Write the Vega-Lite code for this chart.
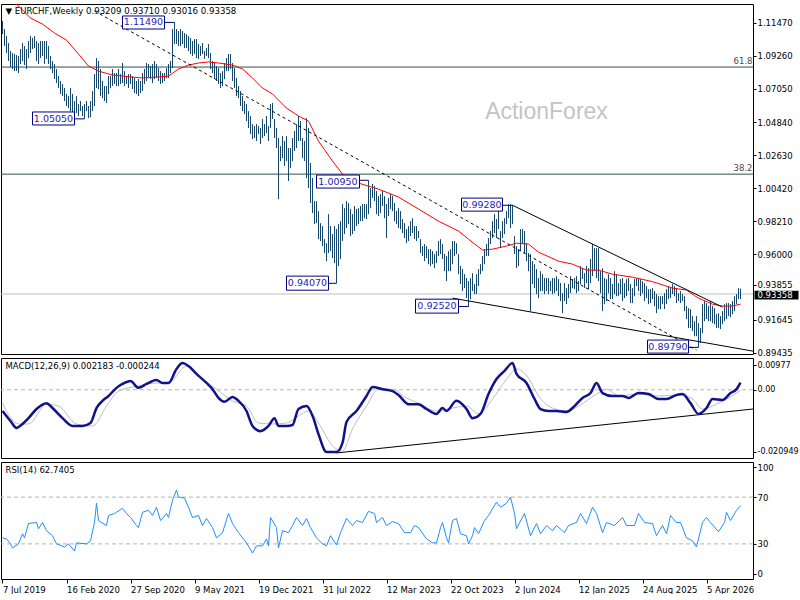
{
  "$schema": "https://vega.github.io/schema/vega-lite/v6.json",
  "padding": {"left": -3, "top": 3, "right": 0, "bottom": 0},
  "background": "white",
  "spacing": 4,
  "bounds": "flush",
  "config": {
    "view": {"stroke": "#000000", "strokeWidth": 1},
    "axis": {"labelFont": "DejaVu Sans", "labelFontSize": 8.5, "labelColor": "#000000", "tickColor": "#000000", "domain": false, "grid": false, "tickSize": 3, "labelPadding": 1},
    "text": {"font": "DejaVu Sans"}
  },
  "datasets": {
    "bars": [
      {"i":0,"h":1.1158,"l":1.1071},{"i":1,"h":1.1105,"l":1.0991},{"i":2,"h":1.1058,"l":1.0945},{"i":3,"h":1.1011,"l":1.0891},{"i":4,"h":1.0958,"l":1.0851},
      {"i":5,"h":1.0945,"l":1.0838},{"i":6,"h":1.0938,"l":1.0824},{"i":7,"h":1.0931,"l":1.0824},{"i":8,"h":1.0925,"l":1.0811},{"i":9,"h":1.0971,"l":1.0871},
      {"i":10,"h":1.1011,"l":1.0891},{"i":11,"h":1.0991,"l":1.0864},{"i":12,"h":1.0971,"l":1.0838},{"i":13,"h":1.1025,"l":1.0911},{"i":14,"h":1.1058,"l":1.0945},
      {"i":15,"h":1.1045,"l":1.0971},{"i":16,"h":1.1058,"l":1.0978},{"i":17,"h":1.1025,"l":1.0891},{"i":18,"h":1.1011,"l":1.0871},{"i":19,"h":1.1025,"l":1.0911},
      {"i":20,"h":1.1025,"l":1.0925},{"i":21,"h":1.1025,"l":1.0871},{"i":22,"h":1.1025,"l":1.0905},{"i":23,"h":1.0991,"l":1.0871},{"i":24,"h":1.0925,"l":1.0838},
      {"i":25,"h":1.0891,"l":1.0811},{"i":26,"h":1.0871,"l":1.0771},{"i":27,"h":1.0838,"l":1.0744},{"i":28,"h":1.0791,"l":1.0711},{"i":29,"h":1.0758,"l":1.0671},
      {"i":30,"h":1.0738,"l":1.0657},{"i":31,"h":1.0711,"l":1.0624},{"i":32,"h":1.0671,"l":1.0591},{"i":33,"h":1.0657,"l":1.0577},{"i":34,"h":1.0711,"l":1.0557},
      {"i":35,"h":1.0671,"l":1.0537},{"i":36,"h":1.0624,"l":1.0510},{"i":37,"h":1.0657,"l":1.0544},{"i":38,"h":1.0604,"l":1.0524},{"i":39,"h":1.0624,"l":1.0557},
      {"i":40,"h":1.0591,"l":1.0524},{"i":41,"h":1.0604,"l":1.0505},{"i":42,"h":1.0624,"l":1.0557},{"i":43,"h":1.0591,"l":1.0510},{"i":44,"h":1.0624,"l":1.0515},
      {"i":45,"h":1.0691,"l":1.0557},{"i":46,"h":1.0804,"l":1.0591},{"i":47,"h":1.0911,"l":1.0711},{"i":48,"h":1.0891,"l":1.0704},{"i":49,"h":1.0838,"l":1.0657},
      {"i":50,"h":1.0758,"l":1.0644},{"i":51,"h":1.0724,"l":1.0624},{"i":52,"h":1.0724,"l":1.0611},{"i":53,"h":1.0791,"l":1.0671},{"i":54,"h":1.0791,"l":1.0711},
      {"i":55,"h":1.0838,"l":1.0724},{"i":56,"h":1.0811,"l":1.0738},{"i":57,"h":1.0811,"l":1.0724},{"i":58,"h":1.0838,"l":1.0724},{"i":59,"h":1.0804,"l":1.0738},
      {"i":60,"h":1.0878,"l":1.0744},{"i":61,"h":1.0824,"l":1.0724},{"i":62,"h":1.0791,"l":1.0738},{"i":63,"h":1.0804,"l":1.0711},{"i":64,"h":1.0804,"l":1.0738},
      {"i":65,"h":1.0791,"l":1.0704},{"i":66,"h":1.0778,"l":1.0677},{"i":67,"h":1.0758,"l":1.0671},{"i":68,"h":1.0771,"l":1.0657},{"i":69,"h":1.0758,"l":1.0677},
      {"i":70,"h":1.0811,"l":1.0691},{"i":71,"h":1.0838,"l":1.0738},{"i":72,"h":1.0878,"l":1.0758},{"i":73,"h":1.0871,"l":1.0778},{"i":74,"h":1.0858,"l":1.0771},
      {"i":75,"h":1.0871,"l":1.0744},{"i":76,"h":1.0891,"l":1.0771},{"i":77,"h":1.0871,"l":1.0778},{"i":78,"h":1.0844,"l":1.0758},{"i":79,"h":1.0824,"l":1.0738},
      {"i":80,"h":1.0811,"l":1.0744},{"i":81,"h":1.0811,"l":1.0758},{"i":82,"h":1.0844,"l":1.0778},{"i":83,"h":1.0871,"l":1.0778},{"i":84,"h":1.0891,"l":1.0811},
      {"i":85,"h":1.1105,"l":1.0844},{"i":86,"h":1.1149,"l":1.1005},{"i":87,"h":1.1105,"l":1.1005},{"i":88,"h":1.1092,"l":1.0991},{"i":89,"h":1.1105,"l":1.0991},
      {"i":90,"h":1.1092,"l":1.1005},{"i":91,"h":1.1078,"l":1.0978},{"i":92,"h":1.1071,"l":1.0978},{"i":93,"h":1.1058,"l":1.0958},{"i":94,"h":1.1045,"l":1.0938},
      {"i":95,"h":1.1025,"l":1.0925},{"i":96,"h":1.1038,"l":1.0938},{"i":97,"h":1.1038,"l":1.0911},{"i":98,"h":1.1005,"l":1.0905},{"i":99,"h":1.0991,"l":1.0925},
      {"i":100,"h":1.1011,"l":1.0938},{"i":101,"h":1.0958,"l":1.0905},{"i":102,"h":1.0978,"l":1.0925},{"i":103,"h":1.1005,"l":1.0911},{"i":104,"h":1.0945,"l":1.0838},
      {"i":105,"h":1.0891,"l":1.0811},{"i":106,"h":1.0878,"l":1.0771},{"i":107,"h":1.0858,"l":1.0758},{"i":108,"h":1.0844,"l":1.0738},{"i":109,"h":1.0811,"l":1.0711},
      {"i":110,"h":1.0824,"l":1.0724},{"i":111,"h":1.0878,"l":1.0771},{"i":112,"h":1.0911,"l":1.0824},{"i":113,"h":1.0938,"l":1.0824},{"i":114,"h":1.0938,"l":1.0838},
      {"i":115,"h":1.0878,"l":1.0758},{"i":116,"h":1.0844,"l":1.0711},{"i":117,"h":1.0778,"l":1.0657},{"i":118,"h":1.0724,"l":1.0644},{"i":119,"h":1.0691,"l":1.0591},
      {"i":120,"h":1.0657,"l":1.0557},{"i":121,"h":1.0624,"l":1.0537},{"i":122,"h":1.0604,"l":1.0490},{"i":123,"h":1.0557,"l":1.0444},{"i":124,"h":1.0524,"l":1.0404},
      {"i":125,"h":1.0470,"l":1.0370},{"i":126,"h":1.0457,"l":1.0377},{"i":127,"h":1.0470,"l":1.0357},{"i":128,"h":1.0457,"l":1.0404},{"i":129,"h":1.0444,"l":1.0337},
      {"i":130,"h":1.0504,"l":1.0377},{"i":131,"h":1.0470,"l":1.0390},{"i":132,"h":1.0524,"l":1.0410},{"i":133,"h":1.0457,"l":1.0357},{"i":134,"h":1.0604,"l":1.0444},
      {"i":135,"h":1.0611,"l":1.0504},{"i":136,"h":1.0504,"l":1.0377},{"i":137,"h":1.0444,"l":1.0310},{"i":138,"h":1.0377,"l":0.9969},{"i":139,"h":1.0323,"l":1.0223},
      {"i":140,"h":1.0390,"l":1.0243},{"i":141,"h":1.0357,"l":1.0190},{"i":142,"h":1.0390,"l":1.0223},{"i":143,"h":1.0310,"l":1.0090},{"i":144,"h":1.0310,"l":1.0176},
      {"i":145,"h":1.0377,"l":1.0223},{"i":146,"h":1.0424,"l":1.0290},{"i":147,"h":1.0470,"l":1.0310},{"i":148,"h":1.0524,"l":1.0357},{"i":149,"h":1.0490,"l":1.0357},
      {"i":150,"h":1.0377,"l":1.0243},{"i":151,"h":1.0357,"l":1.0223},{"i":152,"h":1.0510,"l":1.0110},{"i":153,"h":1.0444,"l":1.0043},{"i":154,"h":1.0210,"l":0.9943},
      {"i":155,"h":1.0110,"l":0.9876},{"i":156,"h":0.9956,"l":0.9802},{"i":157,"h":0.9956,"l":0.9809},{"i":158,"h":0.9889,"l":0.9702},{"i":159,"h":0.9809,"l":0.9689},
      {"i":160,"h":0.9789,"l":0.9655},{"i":161,"h":0.9702,"l":0.9609},{"i":162,"h":0.9675,"l":0.9555},{"i":163,"h":0.9869,"l":0.9609},{"i":164,"h":0.9789,"l":0.9622},
      {"i":165,"h":0.9736,"l":0.9575},{"i":166,"h":0.9789,"l":0.9542},{"i":167,"h":0.9769,"l":0.9407},{"i":168,"h":0.9802,"l":0.9522},{"i":169,"h":0.9822,"l":0.9569},
      {"i":170,"h":0.9936,"l":0.9689},{"i":171,"h":0.9909,"l":0.9736},{"i":172,"h":0.9956,"l":0.9776},{"i":173,"h":0.9943,"l":0.9802},{"i":174,"h":0.9903,"l":0.9722},
      {"i":175,"h":0.9869,"l":0.9736},{"i":176,"h":0.9923,"l":0.9756},{"i":177,"h":0.9903,"l":0.9789},{"i":178,"h":0.9909,"l":0.9802},{"i":179,"h":0.9923,"l":0.9822},
      {"i":180,"h":0.9936,"l":0.9822},{"i":181,"h":0.9936,"l":0.9842},{"i":182,"h":0.9936,"l":0.9836},{"i":183,"h":1.0095,"l":0.9869},{"i":184,"h":1.0043,"l":0.9909},
      {"i":185,"h":1.0070,"l":0.9976},{"i":186,"h":1.0056,"l":0.9956},{"i":187,"h":1.0023,"l":0.9869},{"i":188,"h":0.9989,"l":0.9856},{"i":189,"h":1.0003,"l":0.9876},
      {"i":190,"h":1.0023,"l":0.9923},{"i":191,"h":0.9989,"l":0.9842},{"i":192,"h":0.9936,"l":0.9709},{"i":193,"h":0.9976,"l":0.9856},{"i":194,"h":1.0003,"l":0.9903},
      {"i":195,"h":0.9989,"l":0.9889},{"i":196,"h":0.9943,"l":0.9822},{"i":197,"h":0.9889,"l":0.9802},{"i":198,"h":0.9909,"l":0.9776},{"i":199,"h":0.9889,"l":0.9769},
      {"i":200,"h":0.9836,"l":0.9742},{"i":201,"h":0.9809,"l":0.9709},{"i":202,"h":0.9769,"l":0.9675},{"i":203,"h":0.9789,"l":0.9689},{"i":204,"h":0.9822,"l":0.9722},
      {"i":205,"h":0.9842,"l":0.9742},{"i":206,"h":0.9789,"l":0.9702},{"i":207,"h":0.9789,"l":0.9689},{"i":208,"h":0.9756,"l":0.9709},{"i":209,"h":0.9702,"l":0.9609},
      {"i":210,"h":0.9655,"l":0.9589},{"i":211,"h":0.9669,"l":0.9555},{"i":212,"h":0.9655,"l":0.9575},{"i":213,"h":0.9635,"l":0.9535},{"i":214,"h":0.9635,"l":0.9522},
      {"i":215,"h":0.9622,"l":0.9535},{"i":216,"h":0.9602,"l":0.9508},{"i":217,"h":0.9622,"l":0.9542},{"i":218,"h":0.9689,"l":0.9589},{"i":219,"h":0.9702,"l":0.9602},
      {"i":220,"h":0.9669,"l":0.9569},{"i":221,"h":0.9602,"l":0.9488},{"i":222,"h":0.9589,"l":0.9422},{"i":223,"h":0.9622,"l":0.9488},{"i":224,"h":0.9635,"l":0.9488},
      {"i":225,"h":0.9689,"l":0.9535},{"i":226,"h":0.9689,"l":0.9589},{"i":227,"h":0.9675,"l":0.9602},{"i":228,"h":0.9602,"l":0.9468},{"i":229,"h":0.9522,"l":0.9402},
      {"i":230,"h":0.9502,"l":0.9355},{"i":231,"h":0.9468,"l":0.9375},{"i":232,"h":0.9442,"l":0.9308},{"i":233,"h":0.9422,"l":0.9252},{"i":234,"h":0.9442,"l":0.9301},
      {"i":235,"h":0.9475,"l":0.9355},{"i":236,"h":0.9402,"l":0.9335},{"i":237,"h":0.9468,"l":0.9335},{"i":238,"h":0.9502,"l":0.9388},{"i":239,"h":0.9535,"l":0.9468},
      {"i":240,"h":0.9589,"l":0.9488},{"i":241,"h":0.9635,"l":0.9535},{"i":242,"h":0.9669,"l":0.9589},{"i":243,"h":0.9709,"l":0.9589},{"i":244,"h":0.9756,"l":0.9669},
      {"i":245,"h":0.9822,"l":0.9709},{"i":246,"h":0.9869,"l":0.9742},{"i":247,"h":0.9836,"l":0.9709},{"i":248,"h":0.9909,"l":0.9769},{"i":249,"h":0.9756,"l":0.9642},
      {"i":250,"h":0.9822,"l":0.9709},{"i":251,"h":0.9842,"l":0.9736},{"i":252,"h":0.9889,"l":0.9802},{"i":253,"h":0.9936,"l":0.9842},{"i":254,"h":0.9936,"l":0.9776},
      {"i":255,"h":0.9928,"l":0.9802},{"i":256,"h":0.9722,"l":0.9602},{"i":257,"h":0.9655,"l":0.9509},{"i":258,"h":0.9635,"l":0.9522},{"i":259,"h":0.9769,"l":0.9622},
      {"i":260,"h":0.9769,"l":0.9669},{"i":261,"h":0.9756,"l":0.9609},{"i":262,"h":0.9675,"l":0.9555},{"i":263,"h":0.9609,"l":0.9488},{"i":264,"h":0.9602,"l":0.9221},
      {"i":265,"h":0.9555,"l":0.9402},{"i":266,"h":0.9535,"l":0.9375},{"i":267,"h":0.9502,"l":0.9335},{"i":268,"h":0.9442,"l":0.9308},{"i":269,"h":0.9488,"l":0.9355},
      {"i":270,"h":0.9468,"l":0.9355},{"i":271,"h":0.9442,"l":0.9335},{"i":272,"h":0.9442,"l":0.9355},{"i":273,"h":0.9442,"l":0.9335},{"i":274,"h":0.9422,"l":0.9355},
      {"i":275,"h":0.9442,"l":0.9335},{"i":276,"h":0.9442,"l":0.9341},{"i":277,"h":0.9455,"l":0.9355},{"i":278,"h":0.9435,"l":0.9321},{"i":279,"h":0.9408,"l":0.9288},
      {"i":280,"h":0.9341,"l":0.9208},{"i":281,"h":0.9408,"l":0.9288},{"i":282,"h":0.9375,"l":0.9268},{"i":283,"h":0.9402,"l":0.9308},{"i":284,"h":0.9455,"l":0.9341},
      {"i":285,"h":0.9435,"l":0.9375},{"i":286,"h":0.9442,"l":0.9368},{"i":287,"h":0.9455,"l":0.9341},{"i":288,"h":0.9422,"l":0.9355},{"i":289,"h":0.9522,"l":0.9402},
      {"i":290,"h":0.9508,"l":0.9435},{"i":291,"h":0.9475,"l":0.9375},{"i":292,"h":0.9522,"l":0.9408},{"i":293,"h":0.9508,"l":0.9368},{"i":294,"h":0.9569,"l":0.9408},
      {"i":295,"h":0.9669,"l":0.9455},{"i":296,"h":0.9642,"l":0.9488},{"i":297,"h":0.9642,"l":0.9442},{"i":298,"h":0.9642,"l":0.9422},{"i":299,"h":0.9488,"l":0.9341},
      {"i":300,"h":0.9508,"l":0.9221},{"i":301,"h":0.9442,"l":0.9268},{"i":302,"h":0.9435,"l":0.9288},{"i":303,"h":0.9468,"l":0.9341},{"i":304,"h":0.9442,"l":0.9301},
      {"i":305,"h":0.9402,"l":0.9301},{"i":306,"h":0.9488,"l":0.9335},{"i":307,"h":0.9468,"l":0.9321},{"i":308,"h":0.9408,"l":0.9321},{"i":309,"h":0.9435,"l":0.9335},
      {"i":310,"h":0.9442,"l":0.9288},{"i":311,"h":0.9408,"l":0.9308},{"i":312,"h":0.9435,"l":0.9321},{"i":313,"h":0.9442,"l":0.9355},{"i":314,"h":0.9402,"l":0.9275},
      {"i":315,"h":0.9375,"l":0.9275},{"i":316,"h":0.9435,"l":0.9321},{"i":317,"h":0.9442,"l":0.9388},{"i":318,"h":0.9435,"l":0.9355},{"i":319,"h":0.9435,"l":0.9321},
      {"i":320,"h":0.9422,"l":0.9341},{"i":321,"h":0.9408,"l":0.9288},{"i":322,"h":0.9388,"l":0.9308},{"i":323,"h":0.9368,"l":0.9268},{"i":324,"h":0.9368,"l":0.9275},
      {"i":325,"h":0.9375,"l":0.9301},{"i":326,"h":0.9355,"l":0.9255},{"i":327,"h":0.9335,"l":0.9208},{"i":328,"h":0.9321,"l":0.9235},{"i":329,"h":0.9321,"l":0.9235},
      {"i":330,"h":0.9321,"l":0.9268},{"i":331,"h":0.9341,"l":0.9235},{"i":332,"h":0.9368,"l":0.9268},{"i":333,"h":0.9388,"l":0.9301},{"i":334,"h":0.9375,"l":0.9308},
      {"i":335,"h":0.9402,"l":0.9335},{"i":336,"h":0.9388,"l":0.9321},{"i":337,"h":0.9375,"l":0.9275},{"i":338,"h":0.9341,"l":0.9288},{"i":339,"h":0.9355,"l":0.9275},
      {"i":340,"h":0.9335,"l":0.9288},{"i":341,"h":0.9321,"l":0.9221},{"i":342,"h":0.9255,"l":0.9168},{"i":343,"h":0.9241,"l":0.9108},{"i":344,"h":0.9235,"l":0.9108},
      {"i":345,"h":0.9188,"l":0.9088},{"i":346,"h":0.9154,"l":0.9054},{"i":347,"h":0.9188,"l":0.9054},{"i":348,"h":0.9141,"l":0.8979},{"i":349,"h":0.9108,"l":0.9008},
      {"i":350,"h":0.9268,"l":0.9074},{"i":351,"h":0.9288,"l":0.9154},{"i":352,"h":0.9275,"l":0.9168},{"i":353,"h":0.9255,"l":0.9154},{"i":354,"h":0.9288,"l":0.9154},
      {"i":355,"h":0.9255,"l":0.9141},{"i":356,"h":0.9241,"l":0.9134},{"i":357,"h":0.9201,"l":0.9108},{"i":358,"h":0.9208,"l":0.9108},{"i":359,"h":0.9188,"l":0.9101},
      {"i":360,"h":0.9221,"l":0.9134},{"i":361,"h":0.9268,"l":0.9154},{"i":362,"h":0.9275,"l":0.9168},{"i":363,"h":0.9275,"l":0.9188},{"i":364,"h":0.9268,"l":0.9181},
      {"i":365,"h":0.9288,"l":0.9201},{"i":366,"h":0.9321,"l":0.9221},{"i":367,"h":0.9335,"l":0.9268},{"i":368,"h":0.9375,"l":0.9301},{"i":369,"h":0.9371,"l":0.9302}
    ],
    "ma": [
      {"i":0,"ma":1.1345},{"i":4,"ma":1.1299},{"i":8,"ma":1.1259},{"i":14,"ma":1.1178},{"i":20,"ma":1.1138},{"i":26,"ma":1.1078},{"i":32,"ma":1.1031},
      {"i":38,"ma":1.0938},{"i":43,"ma":1.0858},{"i":48,"ma":1.0824},{"i":55,"ma":1.0798},{"i":65,"ma":1.0784},{"i":70,"ma":1.0778},{"i":77,"ma":1.0784},
      {"i":83,"ma":1.0791},{"i":88,"ma":1.0838},{"i":93,"ma":1.0864},{"i":98,"ma":1.0878},{"i":103,"ma":1.0885},{"i":108,"ma":1.0878},{"i":115,"ma":1.0864},
      {"i":120,"ma":1.0838},{"i":125,"ma":1.0778},{"i":130,"ma":1.0711},{"i":135,"ma":1.0671},{"i":142,"ma":1.0577},{"i":148,"ma":1.0524},{"i":153,"ma":1.0490},
      {"i":158,"ma":1.0357},{"i":165,"ma":1.0223},{"i":170,"ma":1.0136},{"i":178,"ma":1.0076},{"i":188,"ma":1.0036},{"i":198,"ma":0.9983},{"i":208,"ma":0.9903},
      {"i":218,"ma":0.9822},{"i":228,"ma":0.9756},{"i":233,"ma":0.9702},{"i":240,"ma":0.9629},{"i":245,"ma":0.9635},{"i":252,"ma":0.9656},{"i":257,"ma":0.9675},
      {"i":263,"ma":0.9669},{"i":268,"ma":0.9615},{"i":278,"ma":0.9555},{"i":285,"ma":0.9535},{"i":292,"ma":0.9495},{"i":298,"ma":0.9495},{"i":305,"ma":0.9468},
      {"i":315,"ma":0.9448},{"i":325,"ma":0.9418},{"i":335,"ma":0.9375},{"i":342,"ma":0.9362},{"i":346,"ma":0.9325},{"i":348,"ma":0.9308},{"i":355,"ma":0.9268},
      {"i":360,"ma":0.9255},{"i":365,"ma":0.9255},{"i":369,"ma":0.9268}
    ],
    "levels": [{"p":1.0851},{"p":1.0136}],
    "fibtext": [{"i":375,"p":1.0851,"label":"61.8"},{"i":375,"p":1.0136,"label":"38.2"}],
    "last": [{"p":0.93358,"i":376,"i2":398,"top":0.9357,"bot":0.9299,"t":0.9328,"label":"0.93358"}],
    "dashed": [{"i":46,"p":1.1225,"i2":347,"p2":0.8961}],
    "solid": [{"i":255,"p":0.9928,"i2":360,"p2":0.9248},{"i":225,"p":0.9308,"i2":375.25,"p2":0.8954}],
    "boxes": [
      {"label":"1.11490","i":60,"i2":81,"top":1.1192,"bot":1.1105,"mid":70.5,"t":1.1149,"c1":81,"c2":86,"p":1.1149},
      {"label":"1.05050","i":15,"i2":36,"top":1.0551,"bot":1.0464,"mid":25.5,"t":1.0507,"c1":36,"c2":41,"p":1.0505},
      {"label":"1.00950","i":157,"i2":178.5,"top":1.0130,"bot":1.0043,"mid":167.75,"t":1.0086,"c1":178.5,"c2":183,"p":1.0095},
      {"label":"0.94070","i":142,"i2":163,"top":0.9455,"bot":0.9361,"mid":152.5,"t":0.9408,"c1":163,"c2":167,"p":0.9407},
      {"label":"0.99280","i":229.5,"i2":250,"top":0.9976,"bot":0.9889,"mid":239.75,"t":0.9932,"c1":250,"c2":255,"p":0.9928},
      {"label":"0.92520","i":206.5,"i2":228,"top":0.9301,"bot":0.9208,"mid":217.25,"t":0.9255,"c1":228,"c2":233,"p":0.9252},
      {"label":"0.89790","i":322.5,"i2":343,"top":0.9028,"bot":0.8941,"mid":332.75,"t":0.8985,"c1":343,"c2":348,"p":0.8979}
    ],
    "mark": [{"i":272,"p":1.0551,"label":"ActionForex"}],
    "head": [{"i":1.5,"p":1.1225,"label":"▼ EURCHF,Weekly  0.93209 0.93710 0.93016 0.93358"}],
    "macd": [
      {"i":0,"m":-0.0065},{"i":4,"m":-0.0096},{"i":7,"m":-0.0117},{"i":10,"m":-0.0105},{"i":13,"m":-0.0087},{"i":17,"m":-0.0059},{"i":22,"m":-0.0041},
      {"i":25,"m":-0.0056},{"i":30,"m":-0.0087},{"i":35,"m":-0.0111},{"i":40,"m":-0.0111},{"i":44,"m":-0.0102},{"i":47,"m":-0.0056},{"i":50,"m":-0.0034},
      {"i":53,"m":-0.0019},{"i":57,"m":0.0006},{"i":60,"m":0.0018},{"i":64,"m":0.0027},{"i":68,"m":0.0006},{"i":72,"m":0.0018},{"i":77,"m":0.0030},
      {"i":80,"m":0.0021},{"i":83,"m":0.0021},{"i":87,"m":0.0064},{"i":90,"m":0.0082},{"i":93,"m":0.0073},{"i":97,"m":0.0049},{"i":102,"m":0.0021},
      {"i":105,"m":0.0002},{"i":108,"m":-0.0025},{"i":111,"m":-0.0037},{"i":115,"m":-0.0022},{"i":118,"m":-0.0034},{"i":122,"m":-0.0065},{"i":125,"m":-0.0111},
      {"i":129,"m":-0.0127},{"i":133,"m":-0.0111},{"i":136,"m":-0.0087},{"i":138,"m":-0.0111},{"i":142,"m":-0.0111},{"i":145,"m":-0.0108},{"i":148,"m":-0.0059},
      {"i":152,"m":-0.0050},{"i":155,"m":-0.0080},{"i":158,"m":-0.0136},{"i":162,"m":-0.0191},{"i":167,"m":-0.0191},{"i":170,"m":-0.0163},{"i":172,"m":-0.0099},
      {"i":177,"m":-0.0065},{"i":182,"m":-0.0019},{"i":185,"m":0.0009},{"i":190,"m":0.0002},{"i":195,"m":-0.0004},{"i":198,"m":-0.0016},{"i":203,"m":-0.0044},
      {"i":208,"m":-0.0044},{"i":212,"m":-0.0059},{"i":217,"m":-0.0074},{"i":220,"m":-0.0056},{"i":222,"m":-0.0065},{"i":227,"m":-0.0034},{"i":232,"m":-0.0059},
      {"i":235,"m":-0.0087},{"i":239,"m":-0.0074},{"i":243,"m":-0.0013},{"i":247,"m":0.0033},{"i":251,"m":0.0058},{"i":255,"m":0.0082},{"i":257,"m":0.0049},
      {"i":262,"m":0.0021},{"i":266,"m":-0.0028},{"i":269,"m":-0.0059},{"i":273,"m":-0.0065},{"i":277,"m":-0.0065},{"i":282,"m":-0.0068},{"i":286,"m":-0.0050},
      {"i":290,"m":-0.0025},{"i":294,"m":-0.0010},{"i":297,"m":0.0021},{"i":300,"m":-0.0010},{"i":305,"m":-0.0019},{"i":310,"m":-0.0019},{"i":313,"m":-0.0025},
      {"i":318,"m":-0.0010},{"i":323,"m":-0.0013},{"i":328,"m":-0.0028},{"i":332,"m":-0.0028},{"i":337,"m":-0.0016},{"i":340,"m":-0.0013},{"i":344,"m":-0.0041},
      {"i":348,"m":-0.0074},{"i":352,"m":-0.0056},{"i":355,"m":-0.0028},{"i":360,"m":-0.0031},{"i":364,"m":-0.0010},{"i":367,"m":0.0002},{"i":369,"m":0.0022}
    ],
    "signal": [
      {"i":0,"s":-0.0041},{"i":8,"s":-0.0105},{"i":13,"s":-0.0105},{"i":22,"s":-0.0044},{"i":28,"s":-0.0050},{"i":37,"s":-0.0105},{"i":45,"s":-0.0111},
      {"i":52,"s":-0.0050},{"i":58,"s":-0.0004},{"i":68,"s":0.0012},{"i":78,"s":0.0021},{"i":83,"s":0.0021},{"i":92,"s":0.0073},{"i":98,"s":0.0042},
      {"i":107,"s":0.0002},{"i":115,"s":-0.0034},{"i":122,"s":-0.0050},{"i":128,"s":-0.0102},{"i":135,"s":-0.0105},{"i":142,"s":-0.0102},{"i":148,"s":-0.0080},
      {"i":153,"s":-0.0065},{"i":158,"s":-0.0102},{"i":165,"s":-0.0172},{"i":170,"s":-0.0188},{"i":175,"s":-0.0120},{"i":182,"s":-0.0050},{"i":188,"s":0.0002},
      {"i":195,"s":0.0002},{"i":202,"s":-0.0025},{"i":208,"s":-0.0041},{"i":217,"s":-0.0065},{"i":225,"s":-0.0056},{"i":232,"s":-0.0050},{"i":238,"s":-0.0074},
      {"i":245,"s":-0.0028},{"i":252,"s":0.0033},{"i":257,"s":0.0064},{"i":263,"s":0.0036},{"i":268,"s":-0.0019},{"i":275,"s":-0.0056},{"i":282,"s":-0.0065},
      {"i":288,"s":-0.0050},{"i":297,"s":-0.0013},{"i":302,"s":0.0002},{"i":308,"s":-0.0019},{"i":318,"s":-0.0013},{"i":328,"s":-0.0019},{"i":338,"s":-0.0016},
      {"i":345,"s":-0.0028},{"i":350,"s":-0.0059},{"i":357,"s":-0.0044},{"i":363,"s":-0.0025},{"i":369,"s":-0.0002}
    ],
    "macdzero": [{"m":0}],
    "macdtrend": [{"i":167,"m":-0.0194,"i2":375.25,"m2":-0.0059}],
    "macdhead": [{"i":1.5,"m":0.0073,"label":"MACD(12,26,9) 0.002183 -0.000244"}],
    "rsi": [
      {"i":0,"r":35.2},{"i":2,"r":34.3},{"i":4,"r":30},{"i":5,"r":26.5},{"i":8,"r":30},{"i":10,"r":38.7},{"i":11,"r":35.2},{"i":13,"r":47.4},{"i":17,"r":48.3},
      {"i":18,"r":43},{"i":20,"r":48.3},{"i":22,"r":41.3},{"i":25,"r":37},{"i":27,"r":30},{"i":31,"r":27.4},{"i":33,"r":30},{"i":36,"r":23.9},{"i":37,"r":30.9},
      {"i":42,"r":30},{"i":44,"r":32.6},{"i":46,"r":48.3},{"i":47,"r":64.8},{"i":48,"r":50},{"i":52,"r":45.7},{"i":53,"r":54.3},{"i":56,"r":56},{"i":60,"r":60.4},
      {"i":62,"r":56},{"i":64,"r":52.6},{"i":67,"r":45.7},{"i":68,"r":43.9},{"i":70,"r":57},{"i":73,"r":58.7},{"i":75,"r":54.3},{"i":77,"r":61.3},{"i":79,"r":50},
      {"i":82,"r":56},{"i":83,"r":52.6},{"i":85,"r":67.4},{"i":87,"r":76.1},{"i":88,"r":70},{"i":91,"r":69.1},{"i":93,"r":61.3},{"i":95,"r":52.6},{"i":98,"r":54.3},
      {"i":100,"r":45.7},{"i":102,"r":51.7},{"i":105,"r":43.9},{"i":107,"r":35.2},{"i":110,"r":39.6},{"i":113,"r":56},{"i":115,"r":47.4},{"i":118,"r":39.6},
      {"i":122,"r":30.9},{"i":125,"r":22.2},{"i":127,"r":28.3},{"i":130,"r":28.3},{"i":132,"r":34.3},{"i":133,"r":28.3},{"i":134,"r":52.6},{"i":137,"r":43.9},
      {"i":138,"r":26.5},{"i":140,"r":41.3},{"i":143,"r":39.6},{"i":145,"r":45.7},{"i":147,"r":52.6},{"i":150,"r":45.7},{"i":152,"r":51.7},{"i":154,"r":43.9},
      {"i":157,"r":35.2},{"i":160,"r":30},{"i":162,"r":28.3},{"i":164,"r":37},{"i":167,"r":29.1},{"i":169,"r":39.6},{"i":172,"r":51.7},{"i":175,"r":45.7},
      {"i":177,"r":50},{"i":180,"r":48.3},{"i":183,"r":57.8},{"i":186,"r":56},{"i":187,"r":48.3},{"i":190,"r":52.6},{"i":192,"r":45.7},{"i":195,"r":49.1},
      {"i":198,"r":47.4},{"i":201,"r":39.6},{"i":204,"r":39.6},{"i":206,"r":45.7},{"i":208,"r":43.9},{"i":212,"r":34.3},{"i":215,"r":30.9},{"i":217,"r":30.9},
      {"i":219,"r":43.9},{"i":220,"r":48.3},{"i":222,"r":35.2},{"i":223,"r":30.9},{"i":225,"r":50},{"i":227,"r":51.7},{"i":229,"r":38.7},{"i":232,"r":37},
      {"i":233,"r":30},{"i":235,"r":37},{"i":236,"r":43.9},{"i":238,"r":38.7},{"i":241,"r":50},{"i":243,"r":54.3},{"i":247,"r":65.7},{"i":249,"r":61.3},
      {"i":252,"r":64.8},{"i":254,"r":70},{"i":256,"r":56},{"i":257,"r":43},{"i":261,"r":56},{"i":264,"r":37},{"i":267,"r":47.4},{"i":269,"r":38.7},
      {"i":272,"r":45.7},{"i":275,"r":41.3},{"i":277,"r":45.7},{"i":281,"r":39.6},{"i":283,"r":45.7},{"i":287,"r":48.3},{"i":289,"r":56},{"i":292,"r":47.4},
      {"i":295,"r":61.3},{"i":297,"r":56},{"i":300,"r":39.6},{"i":302,"r":48.3},{"i":306,"r":45.7},{"i":310,"r":52.6},{"i":312,"r":45.7},{"i":316,"r":45.7},
      {"i":318,"r":56},{"i":321,"r":48.3},{"i":325,"r":47.4},{"i":327,"r":37},{"i":330,"r":45.7},{"i":332,"r":38.7},{"i":334,"r":54.3},{"i":337,"r":48.3},
      {"i":339,"r":48.3},{"i":342,"r":35.2},{"i":345,"r":32.6},{"i":347,"r":27.4},{"i":350,"r":48.3},{"i":352,"r":52.6},{"i":354,"r":48.3},{"i":358,"r":40.4},
      {"i":361,"r":48.3},{"i":362,"r":57},{"i":364,"r":50},{"i":367,"r":58.7},{"i":369,"r":62.7}
    ],
    "rsilevels": [{"r":70},{"r":30}],
    "rsihead": [{"i":1.5,"r":93.5,"label":"RSI(14) 62.7405"}]
  },
  "vconcat": [
    {
      "width": 752,
      "height": 350,
      "layer": [
        {
          "data": {"name": "levels"},
          "mark": {"type": "rule", "color": "#2f4f4f", "strokeWidth": 1},
          "encoding": {
            "y": {"field": "p", "type": "quantitative", "scale": {"domain": [0.8935, 1.1272], "nice": false, "zero": false},
              "axis": {"orient": "right", "title": null, "values": [1.1147, 1.0926, 1.0705, 1.0484, 1.0263, 1.0042, 0.9821, 0.96, 0.9396, 0.91645, 0.89435], "labelExpr": "datum.value == 0.9396 ? '0.93855' : format(datum.value, '.5f')", "labelOverlap": false, "labelBound": false}}
          }
        },
        {
          "data": {"name": "mark"},
          "mark": {"type": "text", "font": "Liberation Sans", "fontSize": 23, "color": "#c4c4c4", "align": "center", "baseline": "middle"},
          "encoding": {
            "x": {"field": "i", "type": "quantitative", "scale": {"domain": [-0.75, 375.25], "nice": false, "zero": false}, "axis": null},
            "y": {"field": "p", "type": "quantitative", "axis": {"orient": "right", "title": null, "values": [1.1147, 1.0926, 1.0705, 1.0484, 1.0263, 1.0042, 0.9821, 0.96, 0.9396, 0.91645, 0.89435], "labelExpr": "datum.value == 0.9396 ? '0.93855' : format(datum.value, '.5f')", "labelOverlap": false, "labelBound": false}},
            "text": {"field": "label"}
          }
        },
        {
          "data": {"name": "last"},
          "mark": {"type": "rule", "color": "#c0c0c0", "strokeWidth": 1},
          "encoding": {"y": {"field": "p", "type": "quantitative", "axis": {"orient": "right", "title": null, "values": [1.1147, 1.0926, 1.0705, 1.0484, 1.0263, 1.0042, 0.9821, 0.96, 0.9396, 0.91645, 0.89435], "labelExpr": "datum.value == 0.9396 ? '0.93855' : format(datum.value, '.5f')", "labelOverlap": false, "labelBound": false}}}
        },
        {
          "data": {"name": "bars"},
          "mark": {"type": "rule", "color": "#16476a", "strokeWidth": 1},
          "encoding": {
            "x": {"field": "i", "type": "quantitative", "axis": null},
            "y": {"field": "h", "type": "quantitative", "axis": {"orient": "right", "title": null, "values": [1.1147, 1.0926, 1.0705, 1.0484, 1.0263, 1.0042, 0.9821, 0.96, 0.9396, 0.91645, 0.89435], "labelExpr": "datum.value == 0.9396 ? '0.93855' : format(datum.value, '.5f')", "labelOverlap": false, "labelBound": false}},
            "y2": {"field": "l"}
          }
        },
        {
          "data": {"name": "ma"},
          "mark": {"type": "line", "color": "#ff0000", "strokeWidth": 1, "clip": true},
          "encoding": {
            "x": {"field": "i", "type": "quantitative", "axis": null},
            "y": {"field": "ma", "type": "quantitative", "axis": {"orient": "right", "title": null, "values": [1.1147, 1.0926, 1.0705, 1.0484, 1.0263, 1.0042, 0.9821, 0.96, 0.9396, 0.91645, 0.89435], "labelExpr": "datum.value == 0.9396 ? '0.93855' : format(datum.value, '.5f')", "labelOverlap": false, "labelBound": false}}
          }
        },
        {
          "data": {"name": "dashed"},
          "mark": {"type": "rule", "color": "#000000", "strokeWidth": 1, "strokeDash": [3, 3]},
          "encoding": {
            "x": {"field": "i", "type": "quantitative", "axis": null},
            "x2": {"field": "i2"},
            "y": {"field": "p", "type": "quantitative", "axis": {"orient": "right", "title": null, "values": [1.1147, 1.0926, 1.0705, 1.0484, 1.0263, 1.0042, 0.9821, 0.96, 0.9396, 0.91645, 0.89435], "labelExpr": "datum.value == 0.9396 ? '0.93855' : format(datum.value, '.5f')", "labelOverlap": false, "labelBound": false}},
            "y2": {"field": "p2"}
          }
        },
        {
          "data": {"name": "solid"},
          "mark": {"type": "rule", "color": "#000000", "strokeWidth": 1},
          "encoding": {
            "x": {"field": "i", "type": "quantitative", "axis": null},
            "x2": {"field": "i2"},
            "y": {"field": "p", "type": "quantitative", "axis": {"orient": "right", "title": null, "values": [1.1147, 1.0926, 1.0705, 1.0484, 1.0263, 1.0042, 0.9821, 0.96, 0.9396, 0.91645, 0.89435], "labelExpr": "datum.value == 0.9396 ? '0.93855' : format(datum.value, '.5f')", "labelOverlap": false, "labelBound": false}},
            "y2": {"field": "p2"}
          }
        },
        {
          "data": {"name": "fibtext"},
          "mark": {"type": "text", "fontSize": 8.5, "color": "#4a4a4a", "align": "right", "baseline": "bottom", "dy": -1},
          "encoding": {
            "x": {"field": "i", "type": "quantitative", "axis": null},
            "y": {"field": "p", "type": "quantitative", "axis": {"orient": "right", "title": null, "values": [1.1147, 1.0926, 1.0705, 1.0484, 1.0263, 1.0042, 0.9821, 0.96, 0.9396, 0.91645, 0.89435], "labelExpr": "datum.value == 0.9396 ? '0.93855' : format(datum.value, '.5f')", "labelOverlap": false, "labelBound": false}},
            "text": {"field": "label"}
          }
        },
        {
          "data": {"name": "boxes"},
          "mark": {"type": "rule", "color": "#000080", "strokeWidth": 1},
          "encoding": {
            "x": {"field": "c1", "type": "quantitative", "axis": null},
            "x2": {"field": "c2"},
            "y": {"field": "p", "type": "quantitative", "axis": {"orient": "right", "title": null, "values": [1.1147, 1.0926, 1.0705, 1.0484, 1.0263, 1.0042, 0.9821, 0.96, 0.9396, 0.91645, 0.89435], "labelExpr": "datum.value == 0.9396 ? '0.93855' : format(datum.value, '.5f')", "labelOverlap": false, "labelBound": false}}
          }
        },
        {
          "data": {"name": "boxes"},
          "mark": {"type": "rect", "fill": "#ffffff", "stroke": "#000080", "strokeWidth": 1},
          "encoding": {
            "x": {"field": "i", "type": "quantitative", "axis": null},
            "x2": {"field": "i2"},
            "y": {"field": "top", "type": "quantitative", "axis": {"orient": "right", "title": null, "values": [1.1147, 1.0926, 1.0705, 1.0484, 1.0263, 1.0042, 0.9821, 0.96, 0.9396, 0.91645, 0.89435], "labelExpr": "datum.value == 0.9396 ? '0.93855' : format(datum.value, '.5f')", "labelOverlap": false, "labelBound": false}},
            "y2": {"field": "bot"}
          }
        },
        {
          "data": {"name": "boxes"},
          "mark": {"type": "text", "fontSize": 9.5, "color": "#2323b4", "align": "center", "baseline": "middle"},
          "encoding": {
            "x": {"field": "mid", "type": "quantitative", "axis": null},
            "y": {"field": "t", "type": "quantitative", "axis": {"orient": "right", "title": null, "values": [1.1147, 1.0926, 1.0705, 1.0484, 1.0263, 1.0042, 0.9821, 0.96, 0.9396, 0.91645, 0.89435], "labelExpr": "datum.value == 0.9396 ? '0.93855' : format(datum.value, '.5f')", "labelOverlap": false, "labelBound": false}},
            "text": {"field": "label"}
          }
        },
        {
          "data": {"name": "head"},
          "mark": {"type": "text", "fontSize": 8.6, "color": "#000000", "align": "left", "baseline": "middle"},
          "encoding": {
            "x": {"field": "i", "type": "quantitative", "axis": null},
            "y": {"field": "p", "type": "quantitative", "axis": {"orient": "right", "title": null, "values": [1.1147, 1.0926, 1.0705, 1.0484, 1.0263, 1.0042, 0.9821, 0.96, 0.9396, 0.91645, 0.89435], "labelExpr": "datum.value == 0.9396 ? '0.93855' : format(datum.value, '.5f')", "labelOverlap": false, "labelBound": false}},
            "text": {"field": "label"}
          }
        },
        {
          "data": {"name": "last"},
          "mark": {"type": "rect", "fill": "#000000"},
          "encoding": {
            "x": {"field": "i", "type": "quantitative", "axis": null},
            "x2": {"field": "i2"},
            "y": {"field": "top", "type": "quantitative", "axis": {"orient": "right", "title": null, "values": [1.1147, 1.0926, 1.0705, 1.0484, 1.0263, 1.0042, 0.9821, 0.96, 0.9396, 0.91645, 0.89435], "labelExpr": "datum.value == 0.9396 ? '0.93855' : format(datum.value, '.5f')", "labelOverlap": false, "labelBound": false}},
            "y2": {"field": "bot"}
          }
        },
        {
          "data": {"name": "last"},
          "mark": {"type": "text", "fontSize": 8.5, "color": "#ffffff", "align": "left", "baseline": "middle", "dx": 3},
          "encoding": {
            "x": {"field": "i", "type": "quantitative", "axis": null},
            "y": {"field": "t", "type": "quantitative", "axis": {"orient": "right", "title": null, "values": [1.1147, 1.0926, 1.0705, 1.0484, 1.0263, 1.0042, 0.9821, 0.96, 0.9396, 0.91645, 0.89435], "labelExpr": "datum.value == 0.9396 ? '0.93855' : format(datum.value, '.5f')", "labelOverlap": false, "labelBound": false}},
            "text": {"field": "label"}
          }
        }
      ]
    },
    {
      "width": 752,
      "height": 100,
      "layer": [
        {
          "data": {"name": "macdzero"},
          "mark": {"type": "rule", "color": "#b4b4b4", "strokeWidth": 1, "strokeDash": [4, 3]},
          "encoding": {
            "y": {"field": "m", "type": "quantitative", "scale": {"domain": [-0.020949, 0.00977], "nice": false, "zero": false},
              "axis": {"orient": "right", "title": null, "values": [0.0076, 0, -0.0191], "labelExpr": "datum.value > 0.001 ? '0.00977' : (datum.value < -0.001 ? '-0.020949' : '0.00')", "labelFontSize": 8, "labelOverlap": false, "labelBound": false}}
          }
        },
        {
          "data": {"name": "macdtrend"},
          "mark": {"type": "rule", "color": "#000000", "strokeWidth": 1},
          "encoding": {
            "x": {"field": "i", "type": "quantitative", "scale": {"domain": [-0.75, 375.25], "nice": false, "zero": false}, "axis": null},
            "x2": {"field": "i2"},
            "y": {"field": "m", "type": "quantitative", "axis": {"orient": "right", "title": null, "values": [0.0076, 0, -0.0191], "labelExpr": "datum.value > 0.001 ? '0.00977' : (datum.value < -0.001 ? '-0.020949' : '0.00')", "labelFontSize": 8, "labelOverlap": false, "labelBound": false}},
            "y2": {"field": "m2"}
          }
        },
        {
          "data": {"name": "signal"},
          "mark": {"type": "line", "color": "#bdbdbd", "strokeWidth": 1, "interpolate": "monotone"},
          "encoding": {
            "x": {"field": "i", "type": "quantitative", "axis": null},
            "y": {"field": "s", "type": "quantitative", "axis": {"orient": "right", "title": null, "values": [0.0076, 0, -0.0191], "labelExpr": "datum.value > 0.001 ? '0.00977' : (datum.value < -0.001 ? '-0.020949' : '0.00')", "labelFontSize": 8, "labelOverlap": false, "labelBound": false}}
          }
        },
        {
          "data": {"name": "macd"},
          "mark": {"type": "line", "color": "#12128c", "strokeWidth": 2.5, "interpolate": "monotone"},
          "encoding": {
            "x": {"field": "i", "type": "quantitative", "axis": null},
            "y": {"field": "m", "type": "quantitative", "axis": {"orient": "right", "title": null, "values": [0.0076, 0, -0.0191], "labelExpr": "datum.value > 0.001 ? '0.00977' : (datum.value < -0.001 ? '-0.020949' : '0.00')", "labelFontSize": 8, "labelOverlap": false, "labelBound": false}}
          }
        },
        {
          "data": {"name": "macdhead"},
          "mark": {"type": "text", "fontSize": 8.5, "color": "#000000", "align": "left", "baseline": "middle"},
          "encoding": {
            "x": {"field": "i", "type": "quantitative", "axis": null},
            "y": {"field": "m", "type": "quantitative", "axis": {"orient": "right", "title": null, "values": [0.0076, 0, -0.0191], "labelExpr": "datum.value > 0.001 ? '0.00977' : (datum.value < -0.001 ? '-0.020949' : '0.00')", "labelFontSize": 8, "labelOverlap": false, "labelBound": false}},
            "text": {"field": "label"}
          }
        }
      ]
    },
    {
      "width": 752,
      "height": 117,
      "layer": [
        {
          "data": {"name": "rsilevels"},
          "mark": {"type": "rule", "color": "#b4b4b4", "strokeWidth": 1, "strokeDash": [4, 3]},
          "encoding": {
            "y": {"field": "r", "type": "quantitative", "scale": {"domain": [0, 100], "nice": false, "zero": false},
              "axis": {"orient": "right", "title": null, "values": [95.7, 70, 30, 4.3], "labelExpr": "datum.value > 90 ? '100' : (datum.value < 10 ? '0' : format(datum.value, 'd'))", "labelOverlap": false, "labelBound": false}}
          }
        },
        {
          "data": {"name": "rsi"},
          "mark": {"type": "line", "color": "#1e90ff", "strokeWidth": 1},
          "encoding": {
            "x": {"field": "i", "type": "quantitative", "scale": {"domain": [-0.75, 375.25], "nice": false, "zero": false},
              "axis": {"orient": "bottom", "title": null, "values": [0, 32, 64, 96, 128, 160, 192, 224, 256, 288, 320, 352], "labelExpr": "['7 Jul 2019','16 Feb 2020','27 Sep 2020','9 May 2021','19 Dec 2021','31 Jul 2022','12 Mar 2023','22 Oct 2023','2 Jun 2024','12 Jan 2025','24 Aug 2025','5 Apr 2026'][round(datum.value / 32)]", "labelAlign": "left", "labelOverlap": false, "labelBound": false, "labelFlush": false, "tickSize": 4, "labelPadding": 2}},
            "y": {"field": "r", "type": "quantitative", "axis": {"orient": "right", "title": null, "values": [95.7, 70, 30, 4.3], "labelExpr": "datum.value > 90 ? '100' : (datum.value < 10 ? '0' : format(datum.value, 'd'))", "labelOverlap": false, "labelBound": false}}
          }
        },
        {
          "data": {"name": "rsihead"},
          "mark": {"type": "text", "fontSize": 8.5, "color": "#000000", "align": "left", "baseline": "middle"},
          "encoding": {
            "x": {"field": "i", "type": "quantitative",
              "axis": {"orient": "bottom", "title": null, "values": [0, 32, 64, 96, 128, 160, 192, 224, 256, 288, 320, 352], "labelExpr": "['7 Jul 2019','16 Feb 2020','27 Sep 2020','9 May 2021','19 Dec 2021','31 Jul 2022','12 Mar 2023','22 Oct 2023','2 Jun 2024','12 Jan 2025','24 Aug 2025','5 Apr 2026'][round(datum.value / 32)]", "labelAlign": "left", "labelOverlap": false, "labelBound": false, "labelFlush": false, "tickSize": 4, "labelPadding": 2}},
            "y": {"field": "r", "type": "quantitative", "axis": {"orient": "right", "title": null, "values": [95.7, 70, 30, 4.3], "labelExpr": "datum.value > 90 ? '100' : (datum.value < 10 ? '0' : format(datum.value, 'd'))", "labelOverlap": false, "labelBound": false}},
            "text": {"field": "label"}
          }
        }
      ]
    }
  ]
}
